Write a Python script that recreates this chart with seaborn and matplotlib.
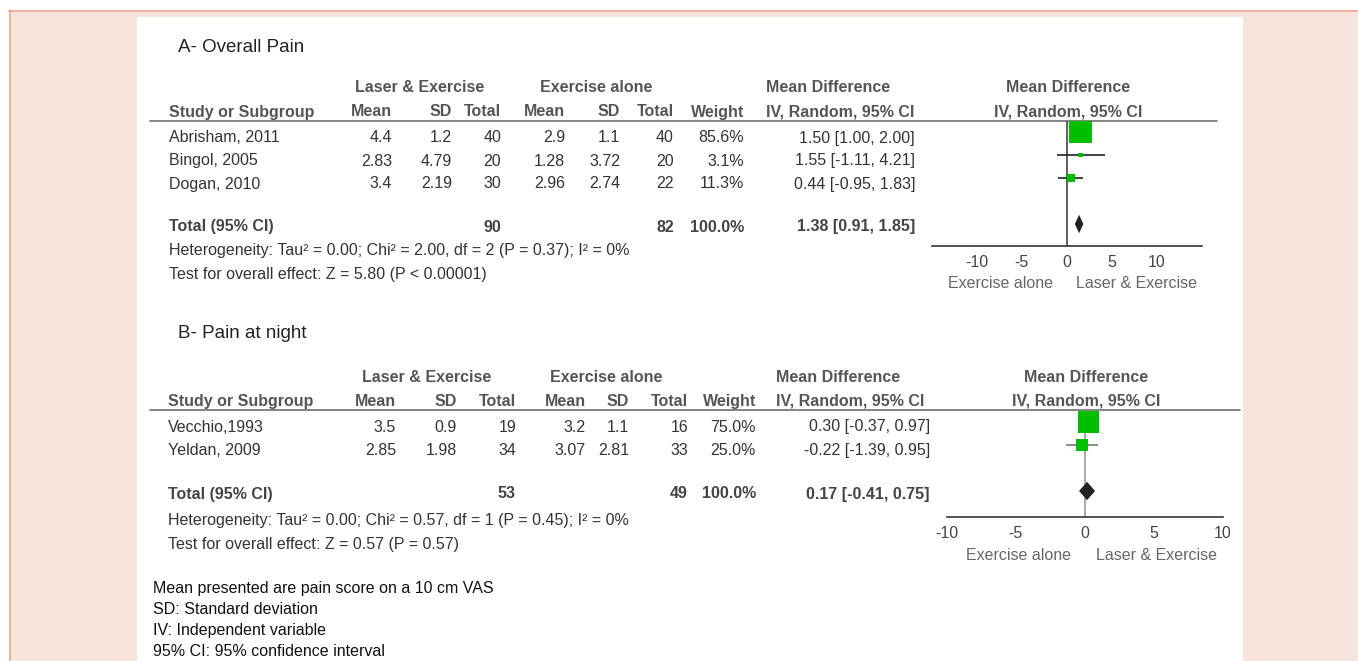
import matplotlib.pyplot as plt
import seaborn as sns
import pandas as pd
from matplotlib.patches import Rectangle

W, H = 1358, 661
GREEN = '#00bf00'
DIAMOND = '#222222'
TXT = '#333333'
HEAD = '#555555'
FS = 11.5

# A- Overall Pain
studies_a = ["Abrisham, 2011", "Bingol, 2005", "Dogan, 2010"]
laser_mean_a = [4.4, 2.83, 3.4]
laser_sd_a = [1.2, 4.79, 2.19]
laser_n_a = [40, 20, 30]
ex_mean_a = [2.9, 1.28, 2.96]
ex_sd_a = [1.1, 3.72, 2.74]
ex_n_a = [40, 20, 22]
weight_a = [85.6, 3.1, 11.3]
md_a = [1.50, 1.55, 0.44]
ci_lo_a = [1.00, -1.11, -0.95]
ci_hi_a = [2.00, 4.21, 1.83]
total_a = [1.38, 0.91, 1.85]
het_a = "Heterogeneity: Tau² = 0.00; Chi² = 2.00, df = 2 (P = 0.37); I² = 0%"
test_a = "Test for overall effect: Z = 5.80 (P < 0.00001)"

# B- Pain at night
studies_b = ["Vecchio,1993", "Yeldan, 2009"]
laser_mean_b = [3.5, 2.85]
laser_sd_b = [0.9, 1.98]
laser_n_b = [19, 34]
ex_mean_b = [3.2, 3.07]
ex_sd_b = [1.1, 2.81]
ex_n_b = [16, 33]
weight_b = [75.0, 25.0]
md_b = [0.30, -0.22]
ci_lo_b = [-0.37, -1.39]
ci_hi_b = [0.97, 0.95]
total_b = [0.17, -0.41, 0.75]
het_b = "Heterogeneity: Tau² = 0.00; Chi² = 0.57, df = 1 (P = 0.45); I² = 0%"
test_b = "Test for overall effect: Z = 0.57 (P = 0.57)"

md_ticks = [-10, -5, 0, 5, 10]
side_labels = ["Exercise alone", "Laser & Exercise"]
notes = ["Mean presented are pain score on a 10 cm VAS",
         "SD: Standard deviation",
         "IV: Independent variable",
         "95% CI: 95% confidence interval"]

# layout (pixels)
LAY_A = dict(title="A- Overall Pain", title_y=48, head1=88, head2=112, rule=121, rule_x=(150, 1217),
             row0=138, dy=23, total_y=227, het_y=251, test_y=274,
             cols=[392, 452, 501, 565, 620, 674, 744], study=169, ci=915, ci_head=766,
             grp=(420, 596), fx=(931.7, 1201.7), lim=15, ftop=121, fbot=245.7, mrow0=132, mdy=23,
             fhead=1068, side_y=283, side_x=(1001, 1137), ci_color='#222222', zero_color='#444444')
LAY_B = dict(title="B- Pain at night", title_y=333, head1=377, head2=401.5, rule=409.5, rule_x=(150, 1240),
             row0=427, dy=23.5, total_y=494, het_y=520, test_y=545,
             cols=[396, 457, 516, 586, 629, 688, 756], study=168, ci=930, ci_head=776,
             grp=(427, 606), fx=(946.7, 1222.7), lim=10, ftop=409.5, fbot=516.7, mrow0=422, mdy=23,
             fhead=1086, side_y=555, side_x=(1018, 1157), ci_color='#777777', zero_color='#999999')

sns.set_style('white')
plt.rcParams['font.family'] = ['Liberation Sans', 'DejaVu Sans']
plt.rcParams['axes.unicode_minus'] = False


def txt(ax, x, y, s, ha='left', bold=False, color=TXT, size=FS):
    ax.text(x, y, s, ha=ha, va='center', fontsize=size, color=color,
            fontweight='bold' if bold else 'normal')


def ci_str(m, lo, hi):
    return f"{m:.2f} [{lo:.2f}, {hi:.2f}]"


def draw_panel(fig, bg, L, studies, lm, lsd, ln, em, esd, en, w, md, lo, hi, tot, het, test):
    n = len(studies)
    cols = L['cols']
    txt(bg, 178, L['title_y'], L['title'], color='#222222', size=13.5)

    # headers
    txt(bg, L['grp'][0], L['head1'], "Laser & Exercise", ha='center', bold=True, color=HEAD)
    txt(bg, L['grp'][1], L['head1'], "Exercise alone", ha='center', bold=True, color=HEAD)
    txt(bg, L['ci_head'], L['head1'], "Mean Difference", bold=True, color=HEAD)
    txt(bg, L['fhead'], L['head1'], "Mean Difference", ha='center', bold=True, color=HEAD)
    txt(bg, L['study'], L['head2'], "Study or Subgroup", bold=True, color=HEAD)
    for x, h in zip(cols, ["Mean", "SD", "Total", "Mean", "SD", "Total", "Weight"]):
        txt(bg, x, L['head2'], h, ha='right', bold=True, color=HEAD)
    txt(bg, L['ci_head'], L['head2'], "IV, Random, 95% CI", bold=True, color=HEAD)
    txt(bg, L['fhead'], L['head2'], "IV, Random, 95% CI", ha='center', bold=True, color=HEAD)
    bg.plot(L['rule_x'], [L['rule'], L['rule']], color='#707070', lw=1.2)

    # study rows
    for i in range(n):
        y = L['row0'] + i * L['dy']
        txt(bg, L['study'], y, studies[i])
        vals = [f"{lm[i]:g}", f"{lsd[i]:g}", f"{ln[i]}", f"{em[i]:g}", f"{esd[i]:g}",
                f"{en[i]}", f"{w[i]:.1f}%"]
        for x, v in zip(cols, vals):
            txt(bg, x, y, v, ha='right')
        txt(bg, L['ci'], y, ci_str(md[i], lo[i], hi[i]), ha='right')

    ty = L['total_y']
    txt(bg, L['study'], ty, "Total (95% CI)", bold=True, color='#444444')
    txt(bg, cols[2], ty, f"{sum(ln)}", ha='right', bold=True, color='#444444')
    txt(bg, cols[5], ty, f"{sum(en)}", ha='right', bold=True, color='#444444')
    txt(bg, cols[6], ty, f"{sum(w):.1f}%", ha='right', bold=True, color='#444444')
    txt(bg, L['ci'], ty, ci_str(*tot), ha='right', bold=True, color='#444444')
    txt(bg, L['study'], L['het_y'], het)
    txt(bg, L['study'], L['test_y'], test)

    # forest plot
    x0, x1 = L['fx']
    fax = fig.add_axes([x0 / W, 1 - L['fbot'] / H, (x1 - x0) / W, (L['fbot'] - L['ftop']) / H])
    fax.set_facecolor('none')
    df = pd.DataFrame({'md': md, 'row': list(range(n)), 'weight': w})
    k = 3.1
    sns.scatterplot(data=df, x='md', y='row', size='weight',
                    sizes=(min(w) * k, max(w) * k), size_norm=(min(w), max(w)),
                    marker='s', color=GREEN, linewidth=0, legend=False,
                    ax=fax, zorder=3, clip_on=False)
    fax.hlines(df['row'], lo, hi, color=L['ci_color'], lw=1.2, zorder=2)
    trow = n + 1
    m, tlo, thi = tot
    hh = 0.4
    fax.fill([tlo, m, thi, m], [trow, trow - hh, trow, trow + hh], color=DIAMOND, lw=0, zorder=3)
    fax.axvline(0, color=L['zero_color'], lw=1.2, zorder=1)

    fax.set_xlim(-L['lim'], L['lim'])
    fax.set_ylim((L['fbot'] - L['mrow0']) / L['mdy'], (L['ftop'] - L['mrow0']) / L['mdy'])
    fax.set_xlabel('')
    fax.set_ylabel('')
    fax.set_yticks([])
    fax.set_xticks(md_ticks)
    fax.set_xticklabels([str(t) for t in md_ticks])
    sns.despine(ax=fax, left=True, top=True, right=True)
    fax.spines['bottom'].set_color('#333333')
    fax.spines['bottom'].set_linewidth(1.2)
    fax.tick_params(axis='x', direction='inout', length=7.5, width=1, colors='#333333',
                    labelcolor='#444444', labelsize=FS, pad=3)
    fax.grid(False)

    for x, s in zip(L['side_x'], side_labels):
        txt(bg, x, L['side_y'], s, ha='center', color='#666666')


fig = plt.figure(figsize=(W / 100, H / 100), dpi=100)
fig.patch.set_facecolor('white')
bg = fig.add_axes([0, 0, 1, 1])
bg.set_xlim(0, W)
bg.set_ylim(H, 0)
bg.axis('off')
bg.add_patch(Rectangle((9, 10), W - 9, H - 10, facecolor='#F7E4DB', edgecolor='none', zorder=0))
bg.plot([9, W], [10.5, 10.5], color='#F0A590', lw=1.2, zorder=1)
bg.plot([9.5, 9.5], [10, H], color='#F0A590', lw=1.2, zorder=1)
bg.add_patch(Rectangle((137, 17), 1243 - 137, H - 17, facecolor='white', edgecolor='none', zorder=1))

draw_panel(fig, bg, LAY_A, studies_a, laser_mean_a, laser_sd_a, laser_n_a, ex_mean_a, ex_sd_a,
           ex_n_a, weight_a, md_a, ci_lo_a, ci_hi_a, total_a, het_a, test_a)
draw_panel(fig, bg, LAY_B, studies_b, laser_mean_b, laser_sd_b, laser_n_b, ex_mean_b, ex_sd_b,
           ex_n_b, weight_b, md_b, ci_lo_b, ci_hi_b, total_b, het_b, test_b)

for i, s in enumerate(notes):
    txt(bg, 153, 588 + i * 21.3, s, color='#111111', size=11.5)

fig.savefig('out.png', dpi=100)
plt.close(fig)
